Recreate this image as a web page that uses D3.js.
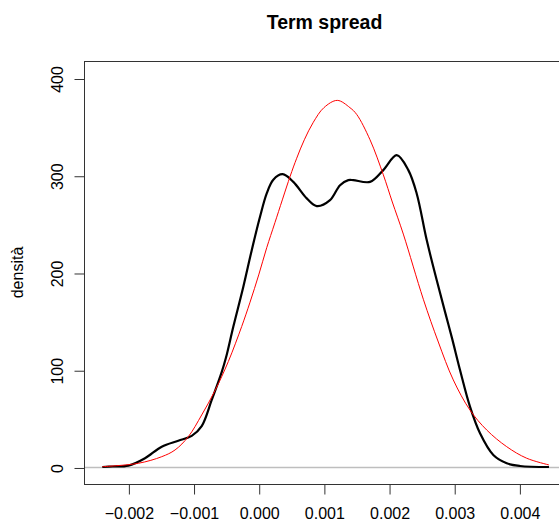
<!DOCTYPE html>
<html>
<head>
<meta charset="utf-8">
<script src="https://cdn.jsdelivr.net/npm/d3@7"></script>
<style>
  body { margin: 0; background: #fff; }
  text { font-family: "Liberation Sans", Arial, sans-serif; fill: #000; }
</style>
</head>
<body>
<script>
const width = 559;
const height = 526;

// kernel density of the term spread (black)
const densX = [-0.00240, -0.00224, -0.00200, -0.001745, -0.001488, -0.001234, -0.001028,
  -0.000875, -0.000721, -0.000568, -0.000502, -0.000390, -0.000236, -0.000107,
  0.000020, 0.000123, 0.000224, 0.000368, 0.000531, 0.000737, 0.000890, 0.001094,
  0.001248, 0.001375, 0.001452, 0.001708, 0.001912, 0.002118, 0.002296, 0.002424,
  0.002578, 0.002731, 0.002859, 0.002966, 0.003089, 0.003242, 0.003396, 0.003600,
  0.003806, 0.004009, 0.004454];
const densY = [0.5, 1, 1.9, 9.5, 21.4, 27.5, 32.5,
  42.5, 69.4, 98, 113, 144.7, 185.8, 223.5,
  257.8, 281.8, 296, 301.6, 293.7, 276.7, 268.8, 274.9,
  290.3, 295.5, 295.5, 293.7, 305.8, 321.2, 305.8, 281.8,
  233.8, 192.7, 160, 133, 100.2, 62.5, 35.1, 12.8,
  4.3, 1.5, 0.5];

// normal density (red)
const normX = [-0.00240, -0.001847, -0.001488, -0.001284, -0.001080, -0.000875, -0.000671,
  -0.000466, -0.000261, -0.000133, 0.000000, 0.000123, 0.000250, 0.000480, 0.000583,
  0.000700, 0.000838, 0.001000, 0.001206, 0.001400, 0.001504, 0.001708, 0.001912,
  0.002050, 0.002219, 0.002526, 0.002756, 0.002986, 0.003242, 0.003499, 0.003805,
  0.004112, 0.004454];
const normY = [0.8, 4.3, 11.1, 18, 31.7, 54, 79,
  109, 145, 170, 198, 226, 252, 299, 318,
  337, 355, 370, 377.5, 370, 363, 337, 301,
  273, 240, 173, 129, 90, 59, 38.5, 21.4,
  9.5, 2.6];

const xTicks = [-0.002, -0.001, 0, 0.001, 0.002, 0.003, 0.004];
const yTicks = [0, 100, 200, 300, 400];

const box = { left: 84, right: 565, top: 61, bottom: 484 };

const x = d3.scaleLinear().domain([-0.002681, 0.0047]).range([box.left, box.right]);
const y = d3.scaleLinear().domain([-17, 418]).range([box.bottom, box.top]);

const svg = d3.select("body").append("svg")
  .attr("width", width)
  .attr("height", height);

// zero line
svg.append("line")
  .attr("x1", box.left).attr("x2", box.right)
  .attr("y1", Math.round(y(0)) + 0.5).attr("y2", Math.round(y(0)) + 0.5)
  .attr("stroke", "#bebebe").attr("stroke-width", 1.5);

const line = (xs, ys) => d3.line()
  .x((d, i) => x(xs[i]))
  .y((d, i) => y(ys[i]))
  .curve(d3.curveCatmullRom.alpha(0.5))(xs);

svg.append("path")
  .attr("d", line(densX, densY))
  .attr("fill", "none")
  .attr("stroke", "#000")
  .attr("stroke-width", 2.2)
  .attr("stroke-linejoin", "round");

svg.append("path")
  .attr("d", line(normX, normY))
  .attr("fill", "none")
  .attr("stroke", "#ff0000")
  .attr("stroke-width", 1);

// box
svg.append("rect")
  .attr("x", box.left + 0.5).attr("y", box.top + 0.5)
  .attr("width", box.right - box.left).attr("height", box.bottom - box.top)
  .attr("fill", "none").attr("stroke", "#333");

// axes
const xAxis = svg.append("g")
  .attr("transform", `translate(0.5,${box.bottom + 0.5})`)
  .call(d3.axisBottom(x).tickValues(xTicks).tickSize(10).tickPadding(13)
    .tickFormat(d3.format(".3f")));
xAxis.select(".domain").remove();
xAxis.selectAll("line").attr("stroke", "#333");
xAxis.selectAll("text").attr("font-size", 16).attr("fill", "#000").attr("font-family", null);

const yAxis = svg.append("g")
  .attr("transform", `translate(${box.left + 0.5},0.5)`)
  .call(d3.axisLeft(y).tickValues(yTicks).tickSize(10).tickFormat(d3.format("d")));
yAxis.select(".domain").remove();
yAxis.selectAll("line").attr("stroke", "#333");
yAxis.selectAll("text")
  .attr("font-size", 16).attr("fill", "#000").attr("font-family", null)
  .attr("x", null).attr("dy", null)
  .attr("text-anchor", "middle")
  .attr("transform", "translate(-22,0) rotate(-90)");

svg.append("text")
  .attr("x", (box.left + box.right) / 2)
  .attr("y", 29)
  .attr("text-anchor", "middle")
  .attr("font-weight", "bold")
  .attr("font-size", 19.5)
  .text("Term spread");

svg.append("text")
  .attr("transform", `translate(23,${(box.top + box.bottom) / 2}) rotate(-90)`)
  .attr("text-anchor", "middle")
  .attr("font-size", 16)
  .text("densità");
</script>
</body>
</html>
